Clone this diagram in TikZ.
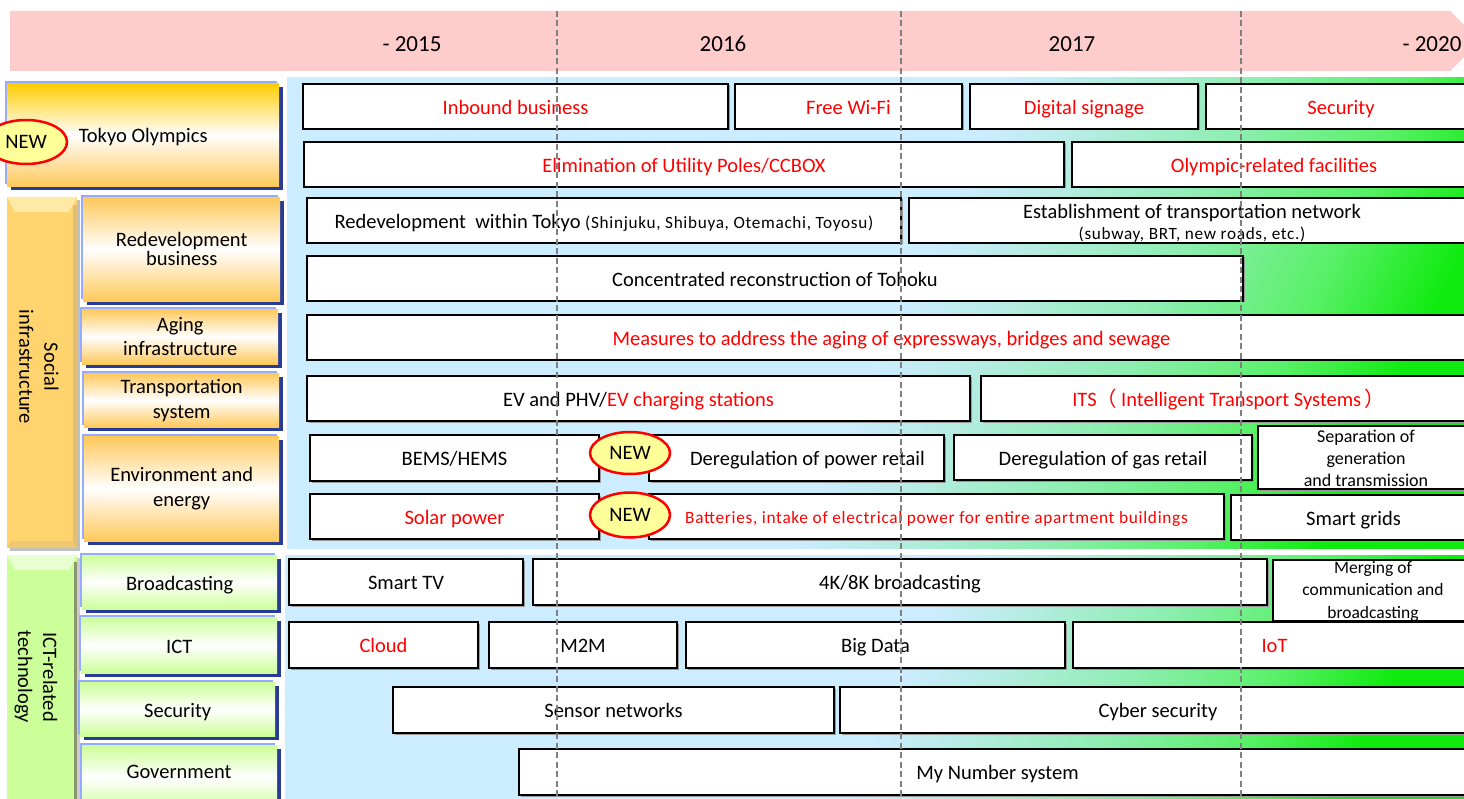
\documentclass[tikz,border=0pt]{standalone}
\usepackage{fontspec}
\setmainfont{Carlito}
\newfontfamily\cjkfont{Noto Sans CJK JP}
\usetikzlibrary{shapes.geometric,shadows}

% palette
\definecolor{hdrpink}{RGB}{255,204,204}
\definecolor{panelblue}{RGB}{204,236,255}
\definecolor{panelaqua}{RGB}{180,236,225}
\definecolor{panelmint}{RGB}{140,238,175}
\definecolor{panelgreen}{RGB}{90,240,105}
\definecolor{brightgreen}{RGB}{15,235,15}
\definecolor{goldtop}{RGB}{255,204,0}
\definecolor{orangesoft}{RGB}{255,200,90}
\definecolor{greensoft}{RGB}{204,255,153}
\definecolor{haloblue}{RGB}{150,170,255}
\definecolor{navyshadow}{RGB}{40,60,150}
\definecolor{newyellow}{RGB}{255,255,153}
\definecolor{bargold}{RGB}{255,212,110}
\definecolor{bargoldlight}{RGB}{255,234,165}
\definecolor{bargolddark}{RGB}{225,190,115}
\definecolor{bargreen}{RGB}{204,255,153}
\definecolor{bargreenlight}{RGB}{232,255,210}
\definecolor{bargreendark}{RGB}{140,150,110}
\definecolor{guidegray}{RGB}{128,128,128}

% background of the timeline area: light blue turning into green
\pgfdeclarehorizontalshading{bluetogreen}{100bp}{%
  color(0bp)=(panelblue); color(51bp)=(panelblue); color(56bp)=(panelaqua);
  color(63bp)=(panelmint); color(70bp)=(panelgreen); color(76bp)=(brightgreen);
  color(100bp)=(brightgreen)}

\newcommand\fsz[2]{\fontsize{#1}{#2}\selectfont}
\newcommand\smallspaced{\fsz{17.2}{19}\addfontfeature{LetterSpace=4}}
% style, name, left, top, right, bottom, text
\newcommand\cellbox[7]{\node[#1, minimum width={(#5-#3)*1pt}, minimum height={(#6-#4)*1pt}] (#2) at (#3,#4) {#7};}

\begin{document}
\begin{tikzpicture}[x=1pt,y=-1pt,
  every node/.style={font=\fsz{20.5}{25}},
  oneline/.style={text height=16pt, text depth=0.4pt},
  yeartext/.style={font=\fsz{23}{27}},
  wbox/.style={draw=black, line width=2pt, fill=white, inner sep=0pt,
    anchor=north west, align=center, oneline,
    drop shadow={shadow xshift=1.5pt, shadow yshift=-1.5pt, fill=black!40, opacity=1}},
  catbox/.style={anchor=north west, inner sep=0pt, align=center,
    general shadow={fill=haloblue, shadow xshift=-2.5pt, shadow yshift=2.5pt},
    general shadow={fill=navyshadow, shadow xshift=3.5pt, shadow yshift=-3.5pt}},
  olybox/.style={catbox, top color=goldtop, bottom color=orangesoft, middle color=white},
  socbox/.style={catbox, top color=orangesoft, bottom color=orangesoft, middle color=white},
  ictbox/.style={catbox, top color=greensoft, bottom color=greensoft, middle color=white},
  newtag/.style={ellipse, draw=red, line width=2.5pt, fill=newyellow, inner sep=0pt},
  guide/.style={draw=guidegray, line width=1.5pt, dash pattern=on 6pt off 3.5pt},
  smalltext/.style={font=\smallspaced},
  multiline/.style={align=center, font=\fsz{17.5}{22.5}}]

\useasboundingbox (0,0) rectangle (1464,799);
\clip (0,0) rectangle (1464,799);

% ---- year header ----
\fill[hdrpink] (10,11) -- (1450,11) -- (1480,41) -- (1450,71) -- (10,71) -- cycle;
\node[yeartext] (yr15) at (412,44) {- 2015};
\node[yeartext] (yr16) at (723,44) {2016};
\node[yeartext] (yr17) at (1072,44) {2017};
\node[yeartext] (yr20) at (1432,44) {- 2020};

% ---- shaded backgrounds of the timeline ----
\shade[shading=bluetogreen, shading angle=-25] (287,78) rectangle (1475,548);
\shade[shading=bluetogreen, shading angle=-25] (285,555) rectangle (1475,805);

% ---- vertical group bars ----
\fill[black!25] (10,200) rectangle (80,551);
\fill[bargold] (7,197) rectangle (77,548);
\fill[bargoldlight] (7,197) -- (77,197) -- (69,212) -- (15,212) -- cycle;
\fill[bargolddark] (73,205) rectangle (77,548);
\fill[bargolddark!60!bargold] (7,548) -- (77,548) -- (73,541) -- (11,541) -- cycle;
\node[rotate=-90, align=center] (soclabel) at (39,367) {Social\\infrastructure};

\fill[black!20] (10,558) rectangle (80,805);
\fill[bargreen] (7,555) rectangle (77,805);
\fill[bargreenlight] (7,555) -- (77,555) -- (69,570) -- (15,570) -- cycle;
\fill[bargreendark] (74,562) rectangle (77,805);
\node[rotate=-90, align=center] (ictlabel) at (36,677) {ICT-related\\technology};

% ---- category boxes ----
\cellbox{olybox,oneline}{cattokyo}{7}{83}{279}{186}{Tokyo Olympics}
\cellbox{socbox,font=\fsz{20.5}{19}}{catredev}{83}{197}{280}{301}{Redevelopment\\business}
\cellbox{socbox,font=\fsz{20.5}{24}}{cataging}{82}{309}{278}{364}{Aging\\infrastructure}
\cellbox{socbox,font=\fsz{20.5}{25}}{cattransp}{84}{373}{279}{427}{Transportation\\system}
\cellbox{socbox,font=\fsz{20.5}{25}}{catenv}{84}{436}{279}{541}{Environment and\\energy}
\cellbox{ictbox,oneline}{catbroad}{82}{555}{277}{609}{Broadcasting}
\cellbox{ictbox,oneline}{catict}{81}{617}{277}{673}{ICT}
\cellbox{ictbox,oneline}{catsec}{80}{682}{275}{736}{Security}
\cellbox{ictbox}{catgov}{82}{745}{277}{810}{}
\node[oneline] (govtext) at (179,771) {Government};

% ---- Tokyo Olympics rows ----
\cellbox{wbox,text=red}{inbound}{302}{83}{727}{128}{Inbound business}
\cellbox{wbox,text=red}{wifi}{734}{83}{961}{128}{Free Wi-Fi}
\cellbox{wbox,text=red}{signage}{969}{83}{1197}{128}{Digital signage}
\cellbox{wbox,text=red}{olysec}{1205}{83}{1475}{128}{Security}
\cellbox{wbox,text=red}{poles}{303}{141}{1063}{186}{Elimination of Utility Poles/CCBOX}
\cellbox{wbox,text=red}{facilities}{1071}{141}{1475}{186}{Olympic-related facilities}

% ---- social infrastructure rows ----
\cellbox{wbox}{redevtokyo}{306}{197}{900}{242}{Redevelopment\ \ within Tokyo {\smallspaced(Shinjuku, Shibuya, Otemachi, Toyosu)}}
\cellbox{wbox}{transnet}{908}{197}{1475}{242}{}
\node[oneline] (transnetA) at (1192,211) {Establishment of transportation network};
\node[smalltext, text height=13pt, text depth=0.4pt] (transnetB) at (1192,233) {(subway, BRT, new roads, etc.)};
\cellbox{wbox}{tohoku}{306}{255}{1242}{300}{Concentrated reconstruction of Tohoku}
\cellbox{wbox,text=red}{agingmeasures}{306}{314}{1475}{359}{Measures to address the aging of expressways, bridges and sewage}
\cellbox{wbox}{evphv}{306}{375}{969}{420}{EV and PHV/\textcolor{red}{EV charging stations}}
\cellbox{wbox,text=red}{its}{980}{375}{1475}{420}{ITS{\cjkfont （}\kern4pt Intelligent Transport Systems\kern3pt{\cjkfont ）}}
\cellbox{wbox}{bems}{309}{434}{598}{480}{BEMS/HEMS}
\cellbox{wbox}{powerretail}{648}{434}{943}{480}{\hspace*{22pt}Deregulation of power retail}
\cellbox{wbox}{gasretail}{953}{434}{1251}{479}{Deregulation of gas retail}
\cellbox{wbox}{separation}{1257}{425}{1475}{488}{}
\node[multiline, font=\fsz{18}{22}] (separationtext) at (1366,458) {Separation of\\generation\\and transmission};
\cellbox{wbox,text=red}{solar}{309}{493}{598}{538}{Solar power}
\cellbox{wbox,text=red,font=\fsz{17.3}{20}\addfontfeature{LetterSpace=4},text height=13.5pt}{batteries}{648}{493}{1223}{538}{Batteries, intake of electrical power for entire apartment buildings}
\cellbox{wbox}{smartgrids}{1230}{494}{1475}{539}{Smart grids}

% ---- ICT-related technology rows ----
\cellbox{wbox}{smarttv}{288}{558}{522}{604}{Smart TV}
\cellbox{wbox}{fourk}{532}{558}{1266}{604}{4K/8K broadcasting}
\cellbox{wbox}{merging}{1272}{559}{1475}{620}{}
\node[multiline] (mergingtext) at (1373,591) {Merging of\\communication and\\broadcasting};
\cellbox{wbox,text=red}{cloud}{288}{621}{477}{667}{Cloud}
\cellbox{wbox}{mtwom}{488}{621}{676}{667}{M2M}
\cellbox{wbox}{bigdata}{685}{621}{1064}{667}{Big Data}
\cellbox{wbox,text=red}{iot}{1072}{621}{1475}{667}{IoT}
\cellbox{wbox}{sensornet}{392}{686}{833}{732}{Sensor networks}
\cellbox{wbox}{cyber}{839}{686}{1475}{732}{Cyber security}
\cellbox{wbox}{mynumber}{518}{748}{1475}{794}{My Number system}

% ---- NEW markers ----
\node[newtag, minimum width=82pt, minimum height=44pt] (newtokyo) at (26,142) {NEW};
\node[newtag, minimum width=80pt, minimum height=42pt] (newpower) at (630,453) {NEW};
\node[newtag, minimum width=80pt, minimum height=45pt] (newbattery) at (630,515) {NEW};

% ---- year guide lines ----
\draw[guide] (557,11) -- (557,799);
\draw[guide] (901,11) -- (901,799);
\draw[guide] (1241,11) -- (1241,799);
\end{tikzpicture}
\end{document}
